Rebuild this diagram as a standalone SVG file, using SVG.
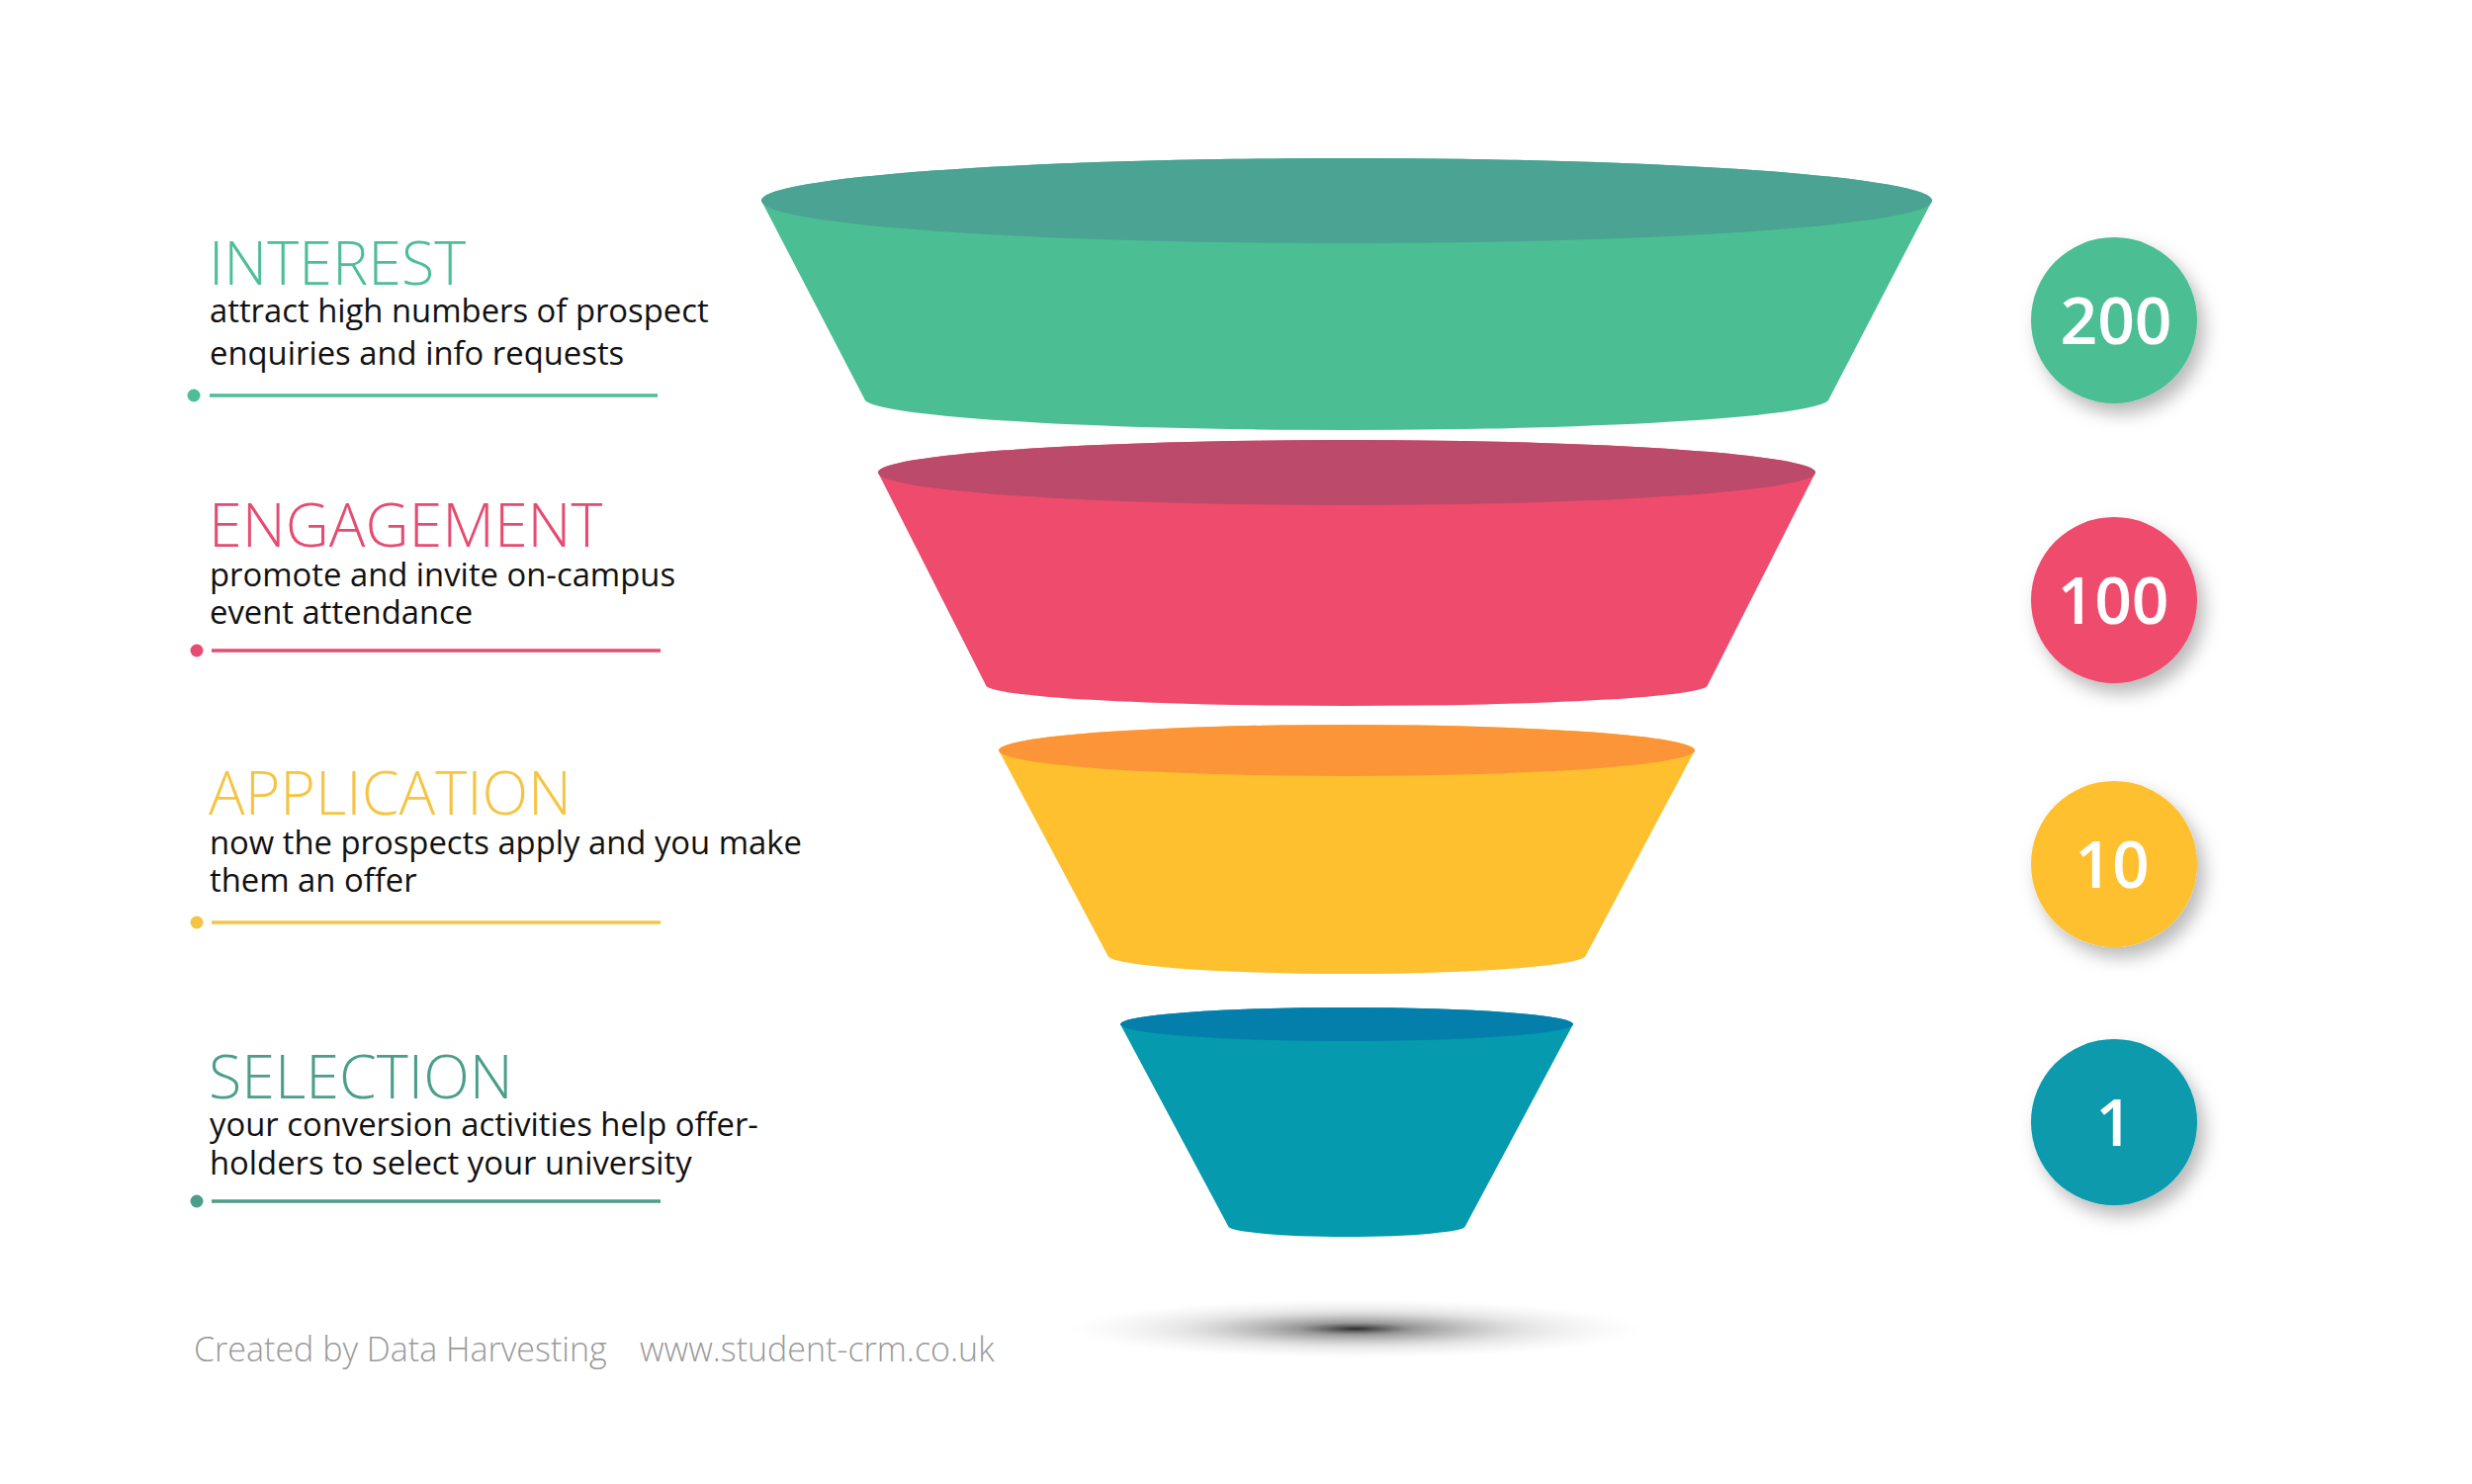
<svg xmlns="http://www.w3.org/2000/svg" width="2500" height="1501" viewBox="0 0 2500 1501">
<defs>
<style>
.title{font-family:"Open Sans","Liberation Sans",sans-serif;font-weight:350;font-size:61px}
.desc{font-family:"Open Sans","Liberation Sans",sans-serif;font-weight:400;font-size:32.8px;fill:#111}
.num{font-family:"Open Sans","Liberation Sans",sans-serif;font-weight:600;font-size:66px;fill:#fff;text-anchor:middle}
.foot{font-family:"Open Sans","Liberation Sans",sans-serif;font-weight:300;font-size:34px;fill:#9a9a9a}
.rule{stroke-width:3.5;fill:none}
</style>
<radialGradient id="shadowGrad" cx="0.5" cy="0.5" r="0.5">
<stop offset="0" stop-color="#222" stop-opacity="0.95"/>
<stop offset="0.2" stop-color="#555" stop-opacity="0.6"/>
<stop offset="0.6" stop-color="#999" stop-opacity="0.25"/>
<stop offset="1" stop-color="#ccc" stop-opacity="0"/>
</radialGradient>
<filter id="circShadow" x="-30%" y="-30%" width="170%" height="170%">
<feDropShadow dx="7" dy="10" stdDeviation="9" flood-color="#000" flood-opacity="0.28"/>
</filter>
</defs>
<rect width="2500" height="1501" fill="#fff"/>

<ellipse cx="1371" cy="1344" rx="290" ry="30" fill="url(#shadowGrad)"/>

<g id="funnel-interest">
<path d="M770,203 L874,403 A488 32 0 0 0 1850,403 L1954,203 A592 43 0 0 0 770,203 Z" fill="#4BBE93"/>
<ellipse cx="1362" cy="203" rx="592" ry="43" fill="#4AA393"/>
</g>
<g id="funnel-engagement">
<path d="M888,478 L997,693 A365 21 0 0 0 1727,693 L1836,478 A474 33 0 0 0 888,478 Z" fill="#EF4B6D"/>
<ellipse cx="1362" cy="478" rx="474" ry="33" fill="#BB4A6B"/>
</g>
<g id="funnel-application">
<path d="M1010,759 L1120,966 A242 19 0 0 0 1604,966 L1714,759 A352 26 0 0 0 1010,759 Z" fill="#FEC02F"/>
<ellipse cx="1362" cy="759" rx="352" ry="26" fill="#FC9538"/>
</g>
<g id="funnel-selection">
<path d="M1133,1036 L1242,1240 A120 11 0 0 0 1482,1240 L1591,1036 A229 17 0 0 0 1133,1036 Z" fill="#059AAD"/>
<ellipse cx="1362" cy="1036" rx="229" ry="17" fill="#047FAC"/>
</g>

<g id="label-interest">
<text class="title" x="211" y="288" fill="#4DBE96">INTEREST</text>
<text class="desc" x="212" y="326">attract high numbers of prospect</text>
<text class="desc" x="212" y="369">enquiries and info requests</text>
<circle cx="196" cy="400" r="6.5" fill="#4DBE96"/>
<line class="rule" x1="212" y1="400" x2="665" y2="400" stroke="#4DBE96"/>
</g>
<g id="label-engagement">
<text class="title" x="211" y="553" fill="#E54C72">ENGAGEMENT</text>
<text class="desc" x="212" y="593">promote and invite on-campus</text>
<text class="desc" x="212" y="631">event attendance</text>
<circle cx="199" cy="658" r="6.5" fill="#E54C72"/>
<line class="rule" x1="214" y1="658" x2="668" y2="658" stroke="#E54C72"/>
</g>
<g id="label-application">
<text class="title" x="211" y="824" fill="#F5C443">APPLICATION</text>
<text class="desc" x="212" y="864">now the prospects apply and you make</text>
<text class="desc" x="212" y="902">them an offer</text>
<circle cx="199" cy="933" r="6.5" fill="#F5C443"/>
<line class="rule" x1="214" y1="933" x2="668" y2="933" stroke="#F5C443"/>
</g>
<g id="label-selection">
<text class="title" x="211" y="1111" fill="#4A9E8A">SELECTION</text>
<text class="desc" x="212" y="1149">your conversion activities help offer-</text>
<text class="desc" x="212" y="1188">holders to select your university</text>
<circle cx="199" cy="1215" r="6.5" fill="#4A9E8A"/>
<line class="rule" x1="214" y1="1215" x2="668" y2="1215" stroke="#4A9E8A"/>
</g>

<g id="count-200">
<circle cx="2138" cy="324" r="84" fill="#4BBE93" filter="url(#circShadow)"/>
<text class="num" x="2140" y="348">200</text>
</g>
<g id="count-100">
<circle cx="2138" cy="607" r="84" fill="#EF4B6D" filter="url(#circShadow)"/>
<text class="num" x="2137" y="631">100</text>
</g>
<g id="count-10">
<circle cx="2138" cy="874" r="84" fill="#FEC02F" filter="url(#circShadow)"/>
<text class="num" x="2136" y="898">10</text>
</g>
<g id="count-1">
<circle cx="2138" cy="1135" r="84" fill="#079AAD" filter="url(#circShadow)"/>
<text class="num" x="2138" y="1159">1</text>
</g>

<g id="connectors"></g>

<text class="foot" x="196" y="1377">Created by Data Harvesting</text>
<text class="foot" x="647" y="1377">www.student-crm.co.uk</text>
</svg>
